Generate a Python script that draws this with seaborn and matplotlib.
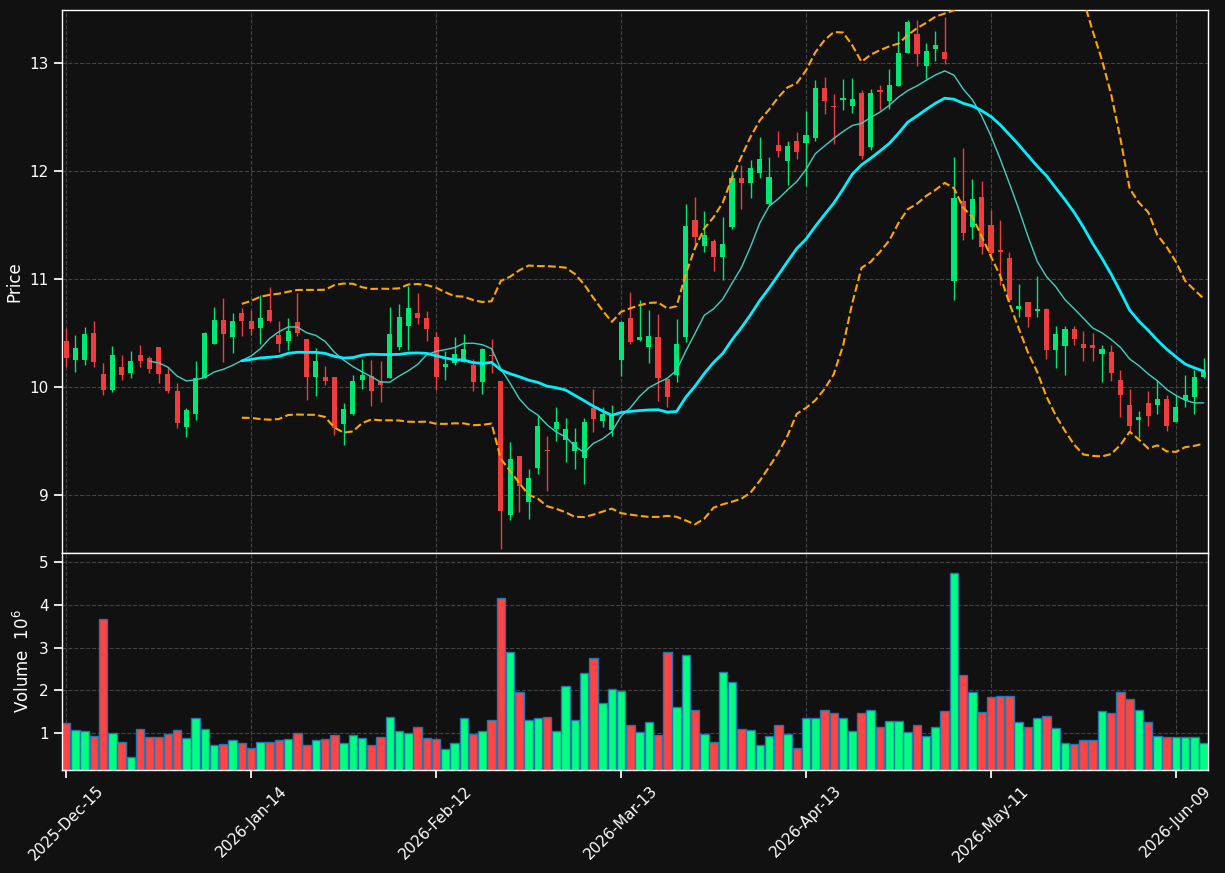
import matplotlib
matplotlib.use("Agg")
import matplotlib.pyplot as plt
import numpy as np
import pandas as pd
import seaborn as sns

# daily OHLC (124 sessions)
OPEN = [10.42, 10.25, 10.25, 10.50, 10.12, 9.97, 10.18, 10.13, 10.29, 10.27,
        10.37, 10.12, 9.96, 9.63, 9.75, 10.08, 10.40, 10.62, 10.46, 10.68,
        10.61, 10.54, 10.71, 10.48, 10.42, 10.60, 10.44, 10.09, 10.09, 10.09,
        9.65, 9.75, 10.06, 10.10, 10.05, 10.08, 10.37, 10.56, 10.68, 10.64,
        10.46, 10.18, 10.22, 10.23, 10.20, 10.04, 10.29, 10.05, 8.81, 9.36,
        8.93, 9.25, 9.41, 9.61, 9.51, 9.40, 9.34, 9.80, 9.68, 9.60,
        10.25, 10.64, 10.43, 10.37, 10.46, 10.07, 10.11, 10.46, 11.54, 11.30,
        11.35, 11.20, 11.48, 11.93, 11.89, 11.98, 11.69, 12.24, 12.09, 12.28,
        12.26, 12.30, 12.77, 12.60, 12.66, 12.60, 12.72, 12.22, 12.75, 12.65,
        12.79, 13.09, 13.27, 12.97, 13.13, 13.10, 10.98, 11.72, 11.48, 11.76,
        11.50, 11.27, 11.19, 10.72, 10.78, 10.70, 10.72, 10.34, 10.38, 10.53,
        10.40, 10.39, 10.30, 10.32, 10.06, 9.83, 9.69, 9.85, 9.83, 9.89,
        9.67, 9.88, 9.90, 10.09]
HIGH = [10.54, 10.48, 10.55, 10.61, 10.22, 10.38, 10.29, 10.33, 10.39, 10.28,
        10.37, 10.17, 10.03, 9.80, 10.24, 10.51, 10.74, 10.82, 10.68, 10.73,
        10.71, 10.85, 10.92, 10.61, 10.64, 10.87, 10.44, 10.36, 10.19, 10.09,
        9.85, 10.11, 10.26, 10.25, 10.24, 10.74, 10.77, 10.93, 10.87, 10.70,
        10.51, 10.33, 10.46, 10.49, 10.26, 10.36, 10.44, 10.05, 9.49, 9.36,
        9.24, 9.74, 9.54, 9.81, 9.71, 9.62, 9.71, 9.98, 9.81, 9.83,
        10.61, 10.88, 10.80, 10.71, 10.67, 10.07, 10.63, 11.69, 11.76, 11.63,
        11.37, 11.57, 12.00, 12.05, 12.10, 12.31, 12.13, 12.37, 12.28, 12.36,
        12.55, 12.84, 12.87, 12.71, 12.85, 12.86, 12.75, 12.76, 12.80, 12.94,
        13.30, 13.40, 13.40, 13.18, 13.30, 13.43, 12.13, 12.21, 11.92, 11.91,
        11.64, 11.54, 11.25, 10.95, 10.78, 11.03, 10.73, 10.56, 10.56, 10.56,
        10.52, 10.50, 10.39, 10.39, 10.15, 9.98, 9.77, 9.96, 10.05, 9.92,
        9.92, 10.11, 10.15, 10.27]
LOW = [10.18, 10.14, 10.20, 10.18, 9.92, 9.95, 10.06, 10.08, 10.18, 10.13,
       10.03, 9.94, 9.62, 9.53, 9.69, 10.08, 10.40, 10.23, 10.31, 10.47,
       10.48, 10.40, 10.60, 10.32, 10.34, 10.47, 9.88, 9.91, 10.02, 9.55,
       9.46, 9.74, 9.98, 9.82, 9.86, 10.08, 10.34, 10.34, 10.58, 10.42,
       9.97, 10.06, 10.20, 10.23, 9.96, 9.93, 10.13, 8.50, 8.76, 8.84,
       8.77, 9.19, 9.03, 9.50, 9.30, 9.24, 9.10, 9.58, 9.63, 9.54,
       10.10, 10.40, 10.42, 10.22, 9.87, 9.81, 10.04, 10.41, 11.30, 11.25,
       11.07, 10.99, 11.46, 11.65, 11.75, 11.93, 11.68, 12.13, 11.87, 12.11,
       11.86, 12.28, 12.53, 12.25, 12.56, 12.54, 12.11, 12.19, 12.56, 12.57,
       12.79, 13.09, 12.97, 12.85, 13.02, 12.99, 10.80, 11.36, 11.37, 11.23,
       11.21, 10.94, 10.78, 10.65, 10.55, 10.65, 10.26, 10.17, 10.11, 10.39,
       10.24, 10.24, 10.04, 10.05, 9.72, 9.59, 9.52, 9.64, 9.75, 9.59,
       9.67, 9.81, 9.75, 10.08]
CLOSE = [10.27, 10.36, 10.49, 10.23, 9.97, 10.29, 10.11, 10.24, 10.24, 10.16,
         10.12, 9.96, 9.66, 9.78, 10.08, 10.50, 10.62, 10.49, 10.61, 10.61,
         10.53, 10.64, 10.61, 10.40, 10.52, 10.50, 10.09, 10.24, 10.05, 9.62,
         9.79, 10.05, 10.11, 9.96, 10.02, 10.49, 10.65, 10.73, 10.64, 10.53,
         10.09, 10.21, 10.30, 10.35, 10.04, 10.35, 10.28, 8.85, 9.33, 9.08,
         9.15, 9.64, 9.40, 9.67, 9.61, 9.49, 9.67, 9.70, 9.75, 9.74,
         10.60, 10.41, 10.46, 10.47, 10.08, 9.90, 10.40, 11.49, 11.39, 11.41,
         11.20, 11.32, 11.93, 11.89, 12.03, 12.11, 11.94, 12.18, 12.23, 12.17,
         12.33, 12.77, 12.65, 12.59, 12.67, 12.67, 12.14, 12.72, 12.73, 12.80,
         13.09, 13.38, 13.08, 13.11, 13.17, 13.04, 11.75, 11.42, 11.74, 11.29,
         11.24, 11.25, 10.80, 10.75, 10.65, 10.72, 10.34, 10.49, 10.53, 10.44,
         10.36, 10.36, 10.35, 10.13, 9.92, 9.64, 9.72, 9.73, 9.89, 9.64,
         9.81, 9.92, 10.09, 10.14]
# volume in millions
VOLUME = [1.24, 1.07, 1.05, 0.93, 3.67, 1.00, 0.79, 0.44, 1.10, 0.91,
          0.91, 0.99, 1.07, 0.89, 1.35, 1.10, 0.72, 0.74, 0.84, 0.77,
          0.65, 0.79, 0.79, 0.84, 0.86, 1.00, 0.72, 0.84, 0.86, 0.96,
          0.77, 0.96, 0.89, 0.72, 0.91, 1.38, 1.05, 1.00, 1.14, 0.89,
          0.86, 0.63, 0.77, 1.35, 0.98, 1.05, 1.31, 4.16, 2.90, 1.96,
          1.31, 1.35, 1.38, 1.05, 2.10, 1.31, 2.40, 2.76, 1.70, 2.03,
          1.98, 1.19, 1.03, 1.26, 0.96, 2.90, 1.61, 2.83, 1.54, 0.98,
          0.79, 2.43, 2.19, 1.10, 1.07, 0.72, 0.93, 1.19, 0.98, 0.65,
          1.35, 1.35, 1.54, 1.47, 1.35, 1.05, 1.47, 1.54, 1.14, 1.28,
          1.28, 1.03, 1.19, 0.93, 1.14, 1.52, 4.74, 2.36, 1.96, 1.49,
          1.84, 1.87, 1.87, 1.26, 1.14, 1.35, 1.40, 1.12, 0.77, 0.74,
          0.84, 0.84, 1.52, 1.47, 1.96, 1.80, 1.54, 1.26, 0.93, 0.91,
          0.91, 0.91, 0.91, 0.77]
TICK_POS = [0, 20, 40, 60, 80, 100, 120]
TICK_LABELS = ["2025-Dec-15", "2026-Jan-14", "2026-Feb-12", "2026-Mar-13",
               "2026-Apr-13", "2026-May-11", "2026-Jun-09"]

BG = "#111111"
UP, DOWN = "#00e676", "#f03c3c"
VUP, VDOWN = "#00ff7f", "#ff4444"

sns.set_theme(style="dark", rc={
    "figure.facecolor": BG,
    "axes.facecolor": BG,
    "axes.edgecolor": "white",
    "axes.labelcolor": "white",
    "xtick.color": "white",
    "ytick.color": "white",
    "text.color": "white",
    "grid.color": "#444444",
    "grid.linestyle": "--",
    "grid.linewidth": 0.8,
    "xtick.bottom": True,
    "ytick.left": True,
})
plt.rcParams["font.family"] = ["DejaVu Sans"]

df = pd.DataFrame({"open": OPEN, "high": HIGH, "low": LOW, "close": CLOSE, "volume": VOLUME})
df["idx"] = np.arange(len(df))
df["up"] = df["close"] >= df["open"]
df["sma10"] = df["close"].rolling(10).mean()
df["sma20"] = df["close"].rolling(20).mean()
std20 = df["close"].rolling(20).std(ddof=0)
df["bb_up"] = df["sma20"] + 2 * std20
df["bb_lo"] = df["sma20"] - 2 * std20

fig, (ax, axv) = plt.subplots(
    2, 1, figsize=(12.25, 8.73), dpi=100, sharex=True,
    gridspec_kw={"height_ratios": [2.5, 1], "hspace": 0},
)
fig.subplots_adjust(left=0.0506, right=0.986, top=0.9885, bottom=0.118)

cols = np.where(df["up"], UP, DOWN)
ax.vlines(df["idx"], df["low"], df["high"], colors=cols, linewidth=1, zorder=2)
body = (df["close"] - df["open"]).abs().clip(lower=0.012)
ax.bar(df["idx"], body, bottom=df[["open", "close"]].min(axis=1),
       width=0.55, color=cols, linewidth=0, zorder=3)

sns.lineplot(data=df, x="idx", y="sma10", ax=ax, color="#40d0c0", linewidth=1, zorder=4)
sns.lineplot(data=df, x="idx", y="sma20", ax=ax, color="#00f0ff", linewidth=2, zorder=4)
for col in ["bb_up", "bb_lo"]:
    sns.lineplot(data=df, x="idx", y=col, ax=ax, color="#ffa500",
                 linewidth=1.5, linestyle="--", zorder=4)

ax.set_ylim(8.46, 13.49)
ax.set_yticks([9, 10, 11, 12, 13])
ax.set_ylabel("Price")
ax.set_xlabel("")
ax.grid(True)
ax.tick_params(axis="x", labelbottom=False, length=0)

vcols = np.where(df["up"], VUP, VDOWN)
axv.bar(df["idx"], df["volume"], width=0.92, color=vcols,
        edgecolor="#1f77b4", linewidth=1)
axv.set_ylim(0.14, 5.21)
axv.set_yticks([1, 2, 3, 4, 5])
axv.set_ylabel("Volume  $10^{6}$")
axv.grid(True)
axv.set_xlim(-0.45, 123.45)
axv.set_xticks(TICK_POS)
axv.set_xticklabels(TICK_LABELS, rotation=45)

for a in (ax, axv):
    for s in a.spines.values():
        s.set_color("white")
        s.set_linewidth(1)
    a.tick_params(labelsize=11)

fig.savefig("out.png", dpi=100, facecolor=BG)
